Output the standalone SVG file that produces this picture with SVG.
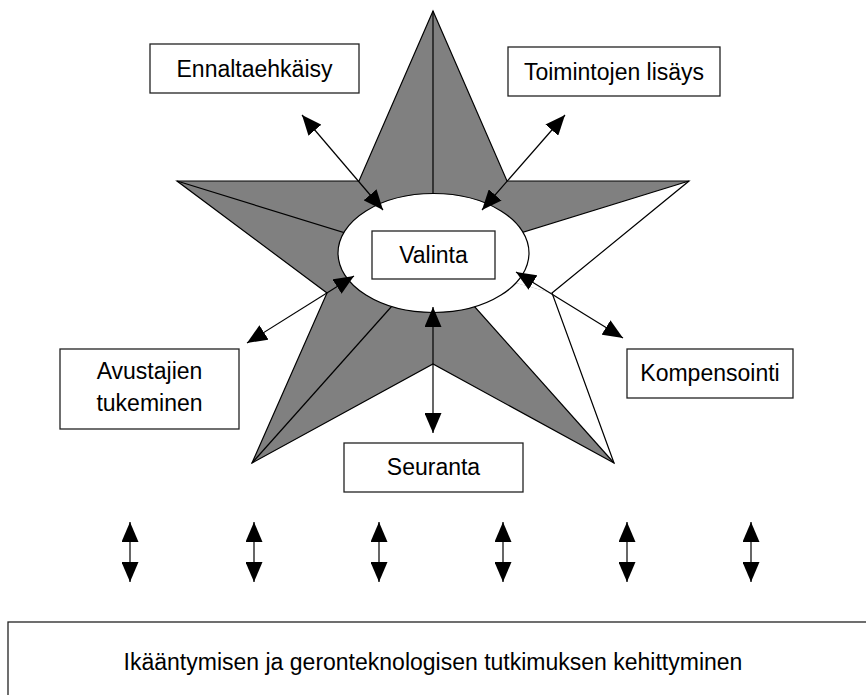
<svg xmlns="http://www.w3.org/2000/svg" width="866" height="695" viewBox="0 0 866 695">
  <style>
    .box { fill: #fff; stroke: #222; stroke-width: 1.3; }
    .lbl { font-family: "Liberation Sans", Arial, sans-serif; font-size: 23px; fill: #000; text-anchor: middle; }
    .edge { stroke: #000; stroke-width: 1.2; fill: none; }
    .conn { stroke: #000; stroke-width: 1.2; fill: none; marker-start: url(#ah); marker-end: url(#ah); }
  </style>
  <defs>
    <marker id="ah" markerUnits="userSpaceOnUse" markerWidth="20" markerHeight="17" viewBox="0 0 20 17" refX="20" refY="8.5" orient="auto-start-reverse">
      <path d="M0,0 L20,8.5 L0,17 Z" fill="#000"/>
    </marker>
  </defs>
  <rect width="866" height="695" fill="#fff"/>

  <g id="star">
    <polygon points="433,11 507,181 689,181 552,293 614,463 433,364 252,463 327,293 177,181 359,181" fill="#808080" stroke="none"/>
    <polygon points="689,181 552,293 433,260" fill="#fff"/>
    <polygon points="552,293 614,463 433,260" fill="#fff"/>
    <g class="edge">
      <line x1="433" y1="260" x2="433" y2="11"/>
      <line x1="433" y1="260" x2="689" y2="181"/>
      <line x1="433" y1="260" x2="614" y2="463"/>
      <line x1="433" y1="260" x2="252" y2="463"/>
      <line x1="433" y1="260" x2="177" y2="181"/>
      <polygon points="433,11 507,181 689,181 552,293 614,463 433,364 252,463 327,293 177,181 359,181"/>
    </g>
  </g>

  <g id="valinta">
    <ellipse cx="433.5" cy="253" rx="95.5" ry="59.5" fill="#fff" stroke="#000" stroke-width="1.2"/>
    <rect class="box" x="372" y="231" width="123" height="48"/>
    <text class="lbl" x="433.5" y="263">Valinta</text>
  </g>

  <g id="ennaltaehkaisy">
    <rect class="box" x="150" y="44" width="209" height="49"/>
    <text class="lbl" x="254.5" y="77">Ennaltaehkäisy</text>
  </g>

  <g id="toimintojen">
    <rect class="box" x="508" y="47" width="212" height="49"/>
    <text class="lbl" x="614" y="79.5">Toimintojen lisäys</text>
  </g>

  <g id="avustajien">
    <rect class="box" x="60" y="349" width="179" height="80"/>
    <text class="lbl" x="149.5" y="379">Avustajien</text>
    <text class="lbl" x="149.5" y="411">tukeminen</text>
  </g>

  <g id="kompensointi">
    <rect class="box" x="627" y="349" width="166" height="49"/>
    <text class="lbl" x="710" y="381">Kompensointi</text>
  </g>

  <g id="seuranta">
    <rect class="box" x="344" y="443" width="179" height="49"/>
    <text class="lbl" x="433.5" y="474.5">Seuranta</text>
  </g>

  <g id="kehittyminen">
    <rect class="box" x="8" y="622" width="880" height="90"/>
    <text class="lbl" x="433" y="670">Ikääntymisen ja geronteknologisen tutkimuksen kehittyminen</text>
  </g>

  <g id="connectors">
    <line class="conn" x1="302" y1="115" x2="383" y2="210"/>
    <line class="conn" x1="565" y1="115" x2="482" y2="210"/>
    <line class="conn" x1="354" y1="276" x2="247" y2="343"/>
    <line class="conn" x1="516" y1="272" x2="623" y2="338"/>
    <line class="conn" x1="433" y1="307" x2="433" y2="433" stroke-width="2"/>
    <line class="conn" x1="130" y1="522" x2="130" y2="582"/>
    <line class="conn" x1="254" y1="522" x2="254" y2="582"/>
    <line class="conn" x1="379" y1="522" x2="379" y2="582"/>
    <line class="conn" x1="503" y1="522" x2="503" y2="582"/>
    <line class="conn" x1="627" y1="522" x2="627" y2="582"/>
    <line class="conn" x1="751" y1="522" x2="751" y2="582"/>
  </g>
</svg>
